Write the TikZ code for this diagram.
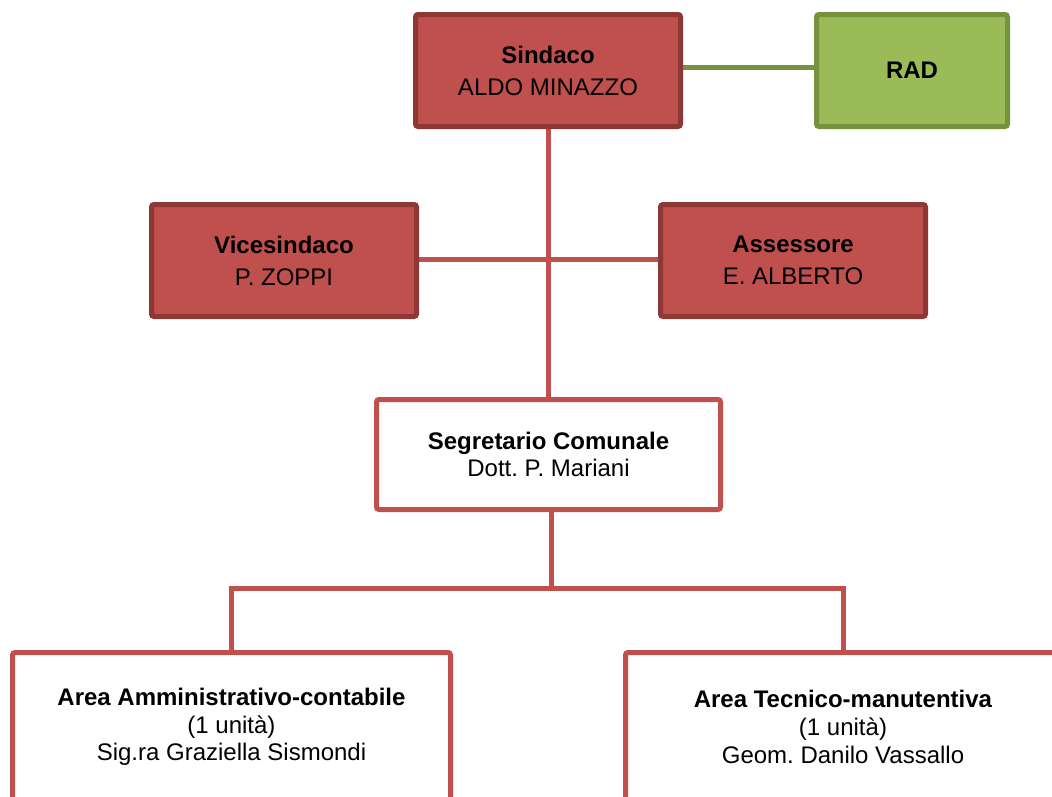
\documentclass[tikz,border=0pt]{standalone}
\usepackage{fontspec}
\setmainfont{Liberation Sans}
\frenchspacing
\usetikzlibrary{backgrounds}
\definecolor{redfill}{HTML}{C0504D}
\definecolor{redborder}{HTML}{8E3836}
\definecolor{greenfill}{HTML}{9BBB59}
\definecolor{greenborder}{HTML}{76923C}
\tikzset{
  box/.style={line width=5pt, rounded corners=2.5pt, outer sep=0pt, inner sep=2pt, align=center,
    font=\frenchspacing\fontsize{24}{32}\selectfont},
  redbox/.style={box, draw=redborder, fill=redfill},
  greenbox/.style={box, draw=greenborder, fill=greenfill},
  whitebox/.style={box, draw=redfill, fill=white, font=\frenchspacing\fontsize{24}{27.6}\selectfont},
  redline/.style={draw=redfill, line width=5pt},
  greenline/.style={draw=greenborder, line width=5pt},
}
\begin{document}
\begin{tikzpicture}[x=1pt,y=-1pt]
\useasboundingbox (0,0) rectangle (1052,796);
\clip (0,0) rectangle (1052,796);
\node[redbox, minimum width=265pt, minimum height=112pt] (sindaco) at (548,70.5)
  {\textbf{Sindaco}\\ALDO MINAZZO};
\node[greenbox, minimum width=191pt, minimum height=112pt] (rad) at (912,70.5)
  {\textbf{RAD}};
\node[redbox, minimum width=265pt, minimum height=112pt] (vice) at (284,260.5)
  {\textbf{Vicesindaco}\\P. ZOPPI};
\node[redbox, minimum width=265pt, minimum height=112pt] (ass) at (793,260.5)
  {\textbf{Assessore}\\E. ALBERTO};
\node[whitebox, minimum width=344pt, minimum height=110pt] (seg) at (548.5,454.5)
  {\textbf{Segretario Comunale}\\Dott. P. Mariani};
\node[whitebox, minimum width=438pt, minimum height=149pt] (amm) at (231.5,727)
  {\textbf{Area Amministrativo-contabile}\\(1 unità)\\Sig.ra Graziella Sismondi};
\node[whitebox, minimum width=435pt, minimum height=149pt] (tec) at (843,727)
  {\textbf{Area Tecnico-manutentiva}\\(1 unità)\\Geom. Danilo Vassallo};
\coordinate (j) at (551,588);
\coordinate (jl) at (amm.north |- j);
\coordinate (jr) at (tec.north |- j);
\begin{scope}[on background layer]
  \draw[greenline] ([yshift=3pt]sindaco.east) -- ([yshift=3pt]rad.west);
  \draw[redline] (sindaco.south) -- (sindaco.south |- seg.north);
  \draw[redline] ([yshift=1.5pt]vice.east) -- ([yshift=1.5pt]ass.west);
  \draw[redline] (seg.south -| j) -- (j);
  \draw[redline, line cap=rect] (jl) -- (jr);
  \draw[redline] (jl) -- (amm.north);
  \draw[redline] (jr) -- (tec.north);
\end{scope}
\end{tikzpicture}
\end{document}
